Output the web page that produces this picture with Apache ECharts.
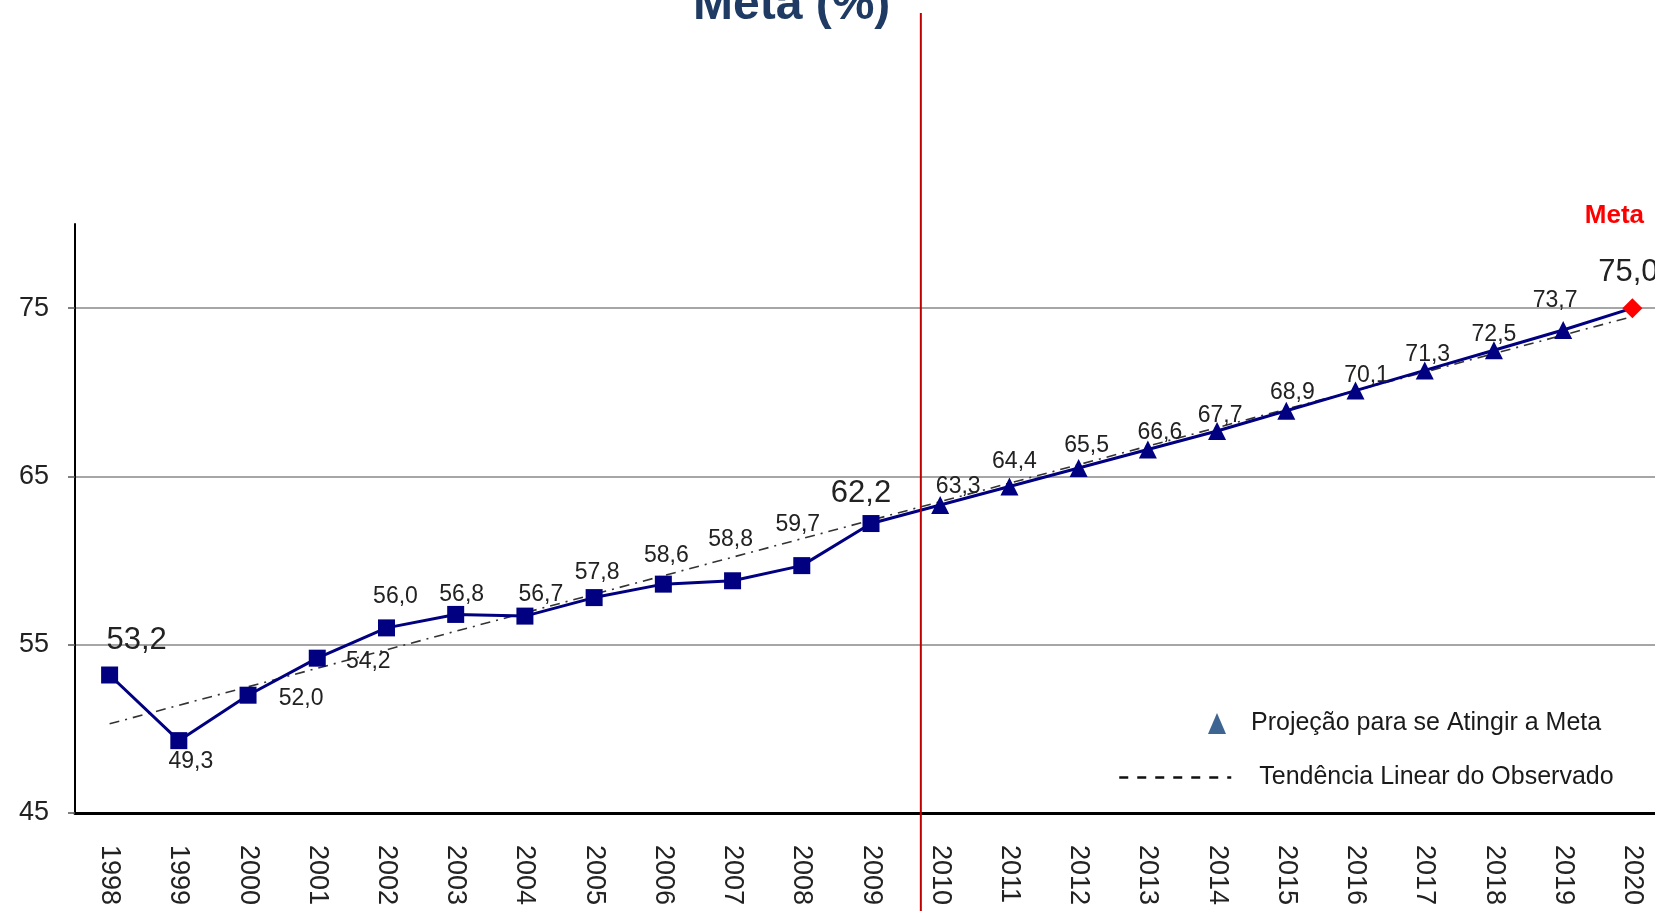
<!DOCTYPE html>
<html>
<head>
<meta charset="utf-8">
<script src="https://cdn.jsdelivr.net/npm/echarts/dist/echarts.min.js"></script>
<style>
html, body { margin: 0; padding: 0; background: #fff; overflow: hidden; }
#chart { width: 1655px; height: 911px; }
</style>
</head>
<body>
<div id="chart"></div>
<script>
// anos do eixo x
const anos = ['1998','1999','2000','2001','2002','2003','2004','2005','2006','2007','2008','2009',
  '2010','2011','2012','2013','2014','2015','2016','2017','2018','2019','2020'];
// observado 1998-2009
const observado = [53.2, 49.3, 52.0, 54.2, 56.0, 56.8, 56.7, 57.8, 58.6, 58.8, 59.7, 62.2];
// projecao 2010-2019
const projecao = [63.3, 64.4, 65.5, 66.6, 67.7, 68.9, 70.1, 71.3, 72.5, 73.7];
// meta 2020
const meta = 75.0;
// tendencia linear (pontas: 1998 e 2020)
const tendencia = [50.3, 74.5];

// deslocamento dos rotulos (px, relativo ao marcador)
const offObs = [[27,-35],[12,21],[53,3],[51,3],[9,-31],[6,-20],[16,-21],[3,-25],[3,-28],[-2,-41],[-4,-41],[-10,-30]];
const offProj = [[18,-18],[5,-25],[8,-22],[12,-17],[3,-15],[6,-18],[11,-15],[3,-16],[0,-16],[-8,-29]];
const grandes = [0, 11]; // rotulos com fonte maior

const FONT = 'Liberation Sans';
const fmt = v => v.toFixed(1).replace('.', ',');

const serieObs = anos.map((a, i) => {
  if (i >= observado.length) return null;
  return {
    value: observado[i],
    label: { offset: offObs[i], fontSize: grandes.includes(i) ? 31 : 23 }
  };
});

const serieProj = anos.map(() => null);
const k = observado.length;
serieProj[k - 1] = { value: observado[k - 1], symbol: 'none', label: { show: false } };
projecao.forEach((v, j) => {
  serieProj[k + j] = { value: v, label: { offset: offProj[j] } };
});
serieProj[anos.length - 1] = {
  value: meta,
  symbol: 'diamond',
  symbolSize: 20,
  itemStyle: { color: '#ff0000' },
  label: {
    offset: [-4, -64],
    formatter: p => '{m|Meta}\n{v|' + fmt(p.value) + '}',
    rich: {
      m: { fontSize: 26, fontWeight: 'bold', color: '#ff0000', fontFamily: FONT, lineHeight: 56, padding: [0, 28, 0, 0] },
      v: { fontSize: 31, color: '#222', fontFamily: FONT, lineHeight: 56 }
    }
  }
};

const serieTend = anos.map(() => null);
serieTend[0] = tendencia[0];
serieTend[anos.length - 1] = tendencia[1];

const chart = echarts.init(document.getElementById('chart'));
chart.setOption({
  animation: false,
  backgroundColor: '#fff',
  title: {
    text: 'Meta (%)',
    left: 688,
    top: -23,
    textStyle: { fontSize: 48, fontWeight: 'bold', color: '#1f3b63', fontFamily: FONT }
  },
  legend: [
    {
      data: [{ name: 'Projeção para se Atingir a Meta', icon: 'triangle', itemStyle: { color: '#3e6592' } }],
      left: 1203,
      top: 706,
      itemWidth: 18,
      itemHeight: 21,
      textStyle: { fontSize: 25, color: '#1a1a1a', fontFamily: FONT, padding: [0, 0, 0, 20] }
    },
    {
      data: [{ name: 'Tendência Linear do Observado',
        itemStyle: { color: 'rgba(0,0,0,0)', borderWidth: 0 },
        lineStyle: { type: [9, 9], width: 2.5, color: '#111' } }],
      left: 1113,
      top: 760,
      itemWidth: 112,
      itemHeight: 14,
      textStyle: { fontSize: 25, color: '#1a1a1a', fontFamily: FONT, padding: [0, 0, 0, 23] }
    }
  ],
  grid: { left: 75, top: 224, width: 1592, bottom: 98, containLabel: false, outerBoundsMode: 'none' },
  xAxis: {
    type: 'category',
    data: anos,
    boundaryGap: true,
    axisLine: { lineStyle: { color: '#000', width: 3 } },
    axisTick: { length: 10, lineStyle: { color: '#555', width: 1.5 } },
    axisLabel: { rotate: -90, margin: 32, fontSize: 27, color: '#222', fontFamily: FONT, interval: 0 }
  },
  yAxis: {
    type: 'value',
    min: 45,
    max: 80,
    interval: 10,
    axisLine: { show: true, lineStyle: { color: '#000', width: 2 } },
    axisTick: { show: true, length: 7, lineStyle: { color: '#555', width: 1.5 } },
    axisLabel: { fontSize: 27, color: '#222', fontFamily: FONT, margin: 26, showMaxLabel: false },
    splitLine: { show: true, showMinLine: false, showMaxLine: false, lineStyle: { color: '#a6a6a6', width: 2 } }
  },
  series: [
    {
      name: 'Tendência Linear do Observado',
      type: 'line',
      data: serieTend,
      connectNulls: true,
      symbol: 'none',
      lineStyle: { color: '#333', width: 1.6, type: [10, 6, 2, 6] },
      itemStyle: { color: '#333' },
      z: 1,
      silent: true
    },
    {
      name: 'Observado',
      type: 'line',
      data: serieObs,
      symbol: 'rect',
      symbolSize: 17,
      itemStyle: { color: '#000080' },
      lineStyle: { color: '#000080', width: 3 },
      label: { show: true, position: 'inside', color: '#222', fontFamily: FONT, fontSize: 23, formatter: p => fmt(p.value) },
      z: 3
    },
    {
      name: 'Projeção para se Atingir a Meta',
      type: 'line',
      data: serieProj,
      symbol: 'triangle',
      symbolSize: 18,
      itemStyle: { color: '#000080' },
      lineStyle: { color: '#000080', width: 3 },
      label: { show: true, position: 'inside', color: '#222', fontFamily: FONT, fontSize: 23, formatter: p => fmt(p.value) },
      z: 3
    }
  ]
});

// linha vermelha vertical que separa observado e projecao
const x09 = chart.convertToPixel({ xAxisIndex: 0 }, '2009');
const x10 = chart.convertToPixel({ xAxisIndex: 0 }, '2010');
const xr = x09 + 0.72 * (x10 - x09);
chart.setOption({
  graphic: [{
    type: 'line',
    shape: { x1: xr, y1: 13, x2: xr, y2: 911 },
    style: { stroke: '#c00000', lineWidth: 2 },
    z: 100
  }]
});
</script>
</body>
</html>
